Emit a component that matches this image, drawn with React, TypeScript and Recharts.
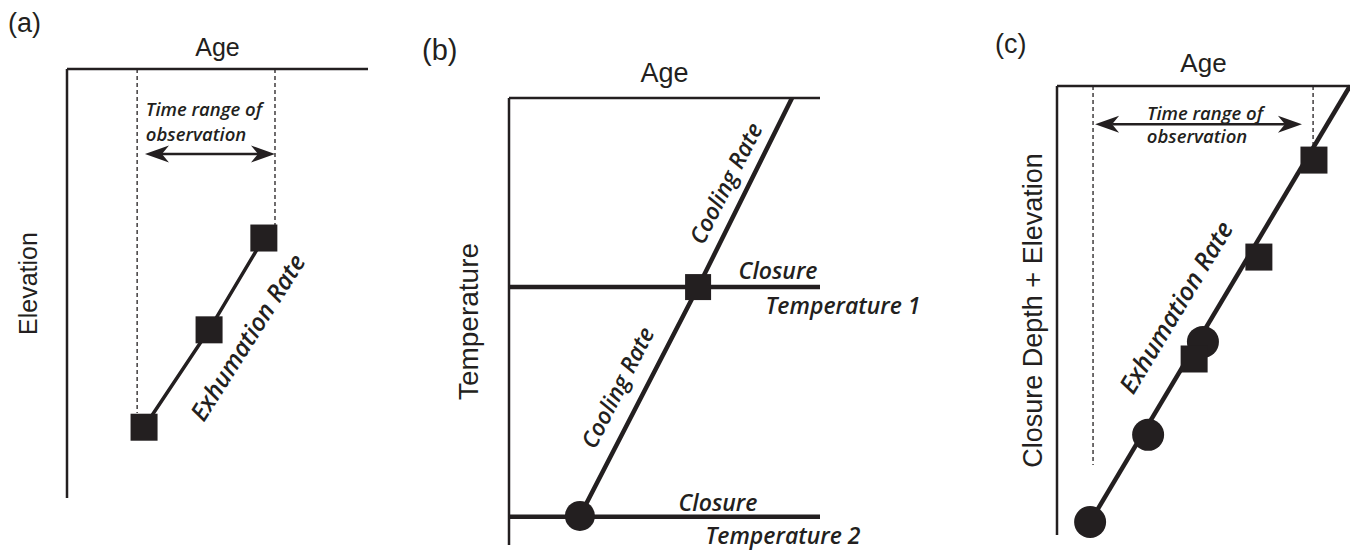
import React from "react";
import {
  ComposedChart,
  Line,
  Scatter,
  XAxis,
  YAxis,
  ReferenceLine,
  ReferenceDot,
} from "recharts";

const INK = "#231f20";
const SANS = "'Liberation Sans', Arial, sans-serif";
const NOTE = "'Open Sans', sans-serif";

// ---- panel (a): age vs elevation (arbitrary units 0-10)
const aSamples = [
  { x: 2.56, y: 1.65 },
  { x: 4.72, y: 3.92 },
  { x: 6.54, y: 6.06 },
];
const aWindowLeft = [
  { x: 2.33, y: 10 },
  { x: 2.33, y: 1.98 },
];
const aWindowRight = [
  { x: 6.91, y: 10 },
  { x: 6.91, y: 6.32 },
];
const aArrow = [
  { x: 2.59, y: 8.02 },
  { x: 6.91, y: 8.02 },
];
const aRangeNotes = [
  { x: 2.62, y: 9.07, text: "Time range of" },
  { x: 2.62, y: 8.49, text: "observation" },
];
const aRateNote = { x: 5.98, y: 3.75, text: "Exhumation Rate" };

// ---- panel (b): age vs temperature
const bCooling = [
  { x: 2.28, y: 0.65 },
  { x: 6.08, y: 5.77 },
  { x: 9.1, y: 10 },
];
const bClosure1 = [{ x: 6.08, y: 5.77 }];
const bClosure2 = [{ x: 2.28, y: 0.65 }];
const bClosureTemps = [5.77, 0.63];
const bCoolingNotes = [
  { x: 6.95, y: 8.1, text: "Cooling Rate" },
  { x: 3.47, y: 3.53, text: "Cooling Rate" },
];
const bClosureNotes = [
  { x: 8.65, y: 6.15, text: "Closure" },
  { x: 10.74, y: 5.37, text: "Temperature 1" },
  { x: 6.72, y: 0.96, text: "Closure" },
  { x: 8.81, y: 0.22, text: "Temperature 2" },
];

// ---- panel (c): age vs closure depth + elevation
const cTrend = [
  { x: 1.13, y: 0.29 },
  { x: 10, y: 10 },
];
const cSquares = [
  { x: 8.77, y: 8.35 },
  { x: 6.89, y: 6.19 },
  { x: 4.68, y: 3.92 },
];
const cCircles = [
  { x: 4.98, y: 4.3 },
  { x: 3.11, y: 2.23 },
  { x: 1.13, y: 0.29 },
];
const cWindowLeft = [
  { x: 1.23, y: 10 },
  { x: 1.23, y: 1.56 },
];
const cWindowRight = [
  { x: 8.74, y: 10 },
  { x: 8.74, y: 8.64 },
];
const cArrow = [
  { x: 1.3, y: 9.15 },
  { x: 8.36, y: 9.15 },
];
const cRangeNotes = [
  { x: 5.05, y: 9.42, text: "Time range of" },
  { x: 4.78, y: 8.9, text: "observation" },
];
const cRateNote = { x: 4.03, y: 5.08, text: "Exhumation Rate" };

const square = (side: number) => (p: any) => (
  <rect x={p.cx - side / 2} y={p.cy - side / 2} width={side} height={side} fill={INK} />
);
const circle = (r: number) => (p: any) => <circle cx={p.cx} cy={p.cy} r={r} fill={INK} />;

const doubleArrow = (p: any) => {
  const { x1, y1, x2, y2 } = p;
  const L = 24;
  const W = 8.5;
  const N = 17;
  return (
    <g>
      <line x1={x1 + N} y1={y1} x2={x2 - N} y2={y2} stroke={INK} strokeWidth={2.5} />
      <path d={`M${x1},${y1} L${x1 + L},${y1 - W} L${x1 + N},${y1} L${x1 + L},${y1 + W} Z`} fill={INK} />
      <path d={`M${x2},${y2} L${x2 - L},${y2 - W} L${x2 - N},${y2} L${x2 - L},${y2 + W} Z`} fill={INK} />
    </g>
  );
};

const note = (
  key: string,
  n: { x: number; y: number; text: string },
  size: number,
  angle = 0,
  anchor: "start" | "middle" = "middle"
) => (
  <ReferenceDot
    key={key}
    x={n.x}
    y={n.y}
    r={0}
    ifOverflow="visible"
    shape={(p: any) => (
      <text
        x={p.cx}
        y={p.cy}
        transform={`rotate(${angle} ${p.cx} ${p.cy})`}
        textAnchor={anchor}
        dominantBaseline="central"
        fill={INK}
        fontFamily={NOTE}
        fontWeight={600}
        fontStyle="italic"
        fontSize={size}
      >
        {n.text}
      </text>
    )}
  />
);

const axisLine = { stroke: INK, strokeWidth: 2.5 };
const axisTitle = (value: string, size: number, angle = 0) => ({
  value,
  angle,
  position: "center" as const,
  fill: INK,
  fontSize: size,
  fontFamily: SANS,
});

const dashed = { stroke: INK, strokeWidth: 1.3, strokeDasharray: "4 3" };

function PanelA() {
  return (
    <ComposedChart width={391} height={510} margin={{ top: 25, right: 12, bottom: 12, left: 0 }}>
      <XAxis
        type="number"
        dataKey="x"
        domain={[0, 10]}
        orientation="top"
        height={44}
        tick={false}
        tickLine={false}
        axisLine={axisLine}
        label={axisTitle("Age", 25)}
      />
      <YAxis
        type="number"
        dataKey="y"
        domain={[0, 10]}
        width={78}
        tick={false}
        tickLine={false}
        axisLine={axisLine}
        label={axisTitle("Elevation", 25, -90)}
      />
      <ReferenceLine segment={aWindowLeft} {...dashed} />
      <ReferenceLine segment={aWindowRight} {...dashed} />
      <ReferenceLine segment={aArrow} shape={doubleArrow} />
      {aRangeNotes.map((n, i) => note(`ar${i}`, n, 18.5, 0, "start"))}
      <Line data={aSamples} dataKey="y" stroke={INK} strokeWidth={3.5} dot={false} isAnimationActive={false} />
      <Scatter data={aSamples} dataKey="y" shape={square(27)} isAnimationActive={false} />
      {note("aex", aRateNote, 24.5, -57.6)}
    </ComposedChart>
  );
}

function PanelB() {
  return (
    <ComposedChart width={513} height={550} margin={{ top: 46, right: 120, bottom: 5, left: 0 }}>
      <XAxis
        type="number"
        dataKey="x"
        domain={[0, 10]}
        orientation="top"
        height={52}
        tick={false}
        tickLine={false}
        axisLine={axisLine}
        label={axisTitle("Age", 27)}
      />
      <YAxis
        type="number"
        dataKey="y"
        domain={[0, 10]}
        width={82}
        tick={false}
        tickLine={false}
        axisLine={axisLine}
        label={axisTitle("Temperature", 28, -90)}
      />
      {bClosureTemps.map((t) => (
        <ReferenceLine key={t} y={t} stroke={INK} strokeWidth={4.5} />
      ))}
      <Line data={bCooling} dataKey="y" stroke={INK} strokeWidth={4.5} dot={false} isAnimationActive={false} />
      <Scatter data={bClosure1} dataKey="y" shape={square(26)} isAnimationActive={false} />
      <Scatter data={bClosure2} dataKey="y" shape={circle(15)} isAnimationActive={false} />
      {bCoolingNotes.map((n, i) => note(`bc${i}`, n, 23, -63))}
      {bClosureNotes.map((n, i) => note(`bt${i}`, n, 23))}
    </ComposedChart>
  );
}

function PanelC() {
  return (
    <ComposedChart width={343} height={545} margin={{ top: 40, right: 0, bottom: 10, left: 0 }}>
      <XAxis
        type="number"
        dataKey="x"
        domain={[0, 10]}
        orientation="top"
        height={46}
        tick={false}
        tickLine={false}
        axisLine={axisLine}
        label={axisTitle("Age", 26)}
      />
      <YAxis
        type="number"
        dataKey="y"
        domain={[0, 10]}
        width={50}
        tick={false}
        tickLine={false}
        axisLine={axisLine}
        label={axisTitle("Closure Depth + Elevation", 27, -90)}
      />
      <ReferenceLine segment={cWindowLeft} {...dashed} />
      <ReferenceLine segment={cWindowRight} {...dashed} />
      <ReferenceLine segment={cArrow} shape={doubleArrow} />
      {cRangeNotes.map((n, i) => note(`cr${i}`, n, 18.5))}
      <Line data={cTrend} dataKey="y" stroke={INK} strokeWidth={4.5} dot={false} isAnimationActive={false} />
      <Scatter data={cCircles} dataKey="y" shape={circle(16)} isAnimationActive={false} />
      <Scatter data={cSquares} dataKey="y" shape={square(27)} isAnimationActive={false} />
      {note("cex", cRateNote, 25, -59)}
    </ComposedChart>
  );
}

export default function App() {
  return (
    <div
      style={{
        position: "absolute",
        left: 0,
        top: 0,
        width: 1350,
        height: 550,
        overflow: "hidden",
        background: "#fff",
      }}
    >
      <svg width={1350} height={550} style={{ position: "absolute", left: 0, top: 0 }}>
        <text x={8} y={32} fontFamily={SANS} fontSize={27} fill={INK}>(a)</text>
        <text x={422} y={60} fontFamily={SANS} fontSize={29} fill={INK}>(b)</text>
        <text x={995} y={53} fontFamily={SANS} fontSize={27} fill={INK}>(c)</text>
      </svg>
      <div style={{ position: "absolute", left: -11, top: 0 }}>
        <PanelA />
      </div>
      <div style={{ position: "absolute", left: 427, top: 0 }}>
        <PanelB />
      </div>
      <div style={{ position: "absolute", left: 1007, top: 0 }}>
        <PanelC />
      </div>
    </div>
  );
}
